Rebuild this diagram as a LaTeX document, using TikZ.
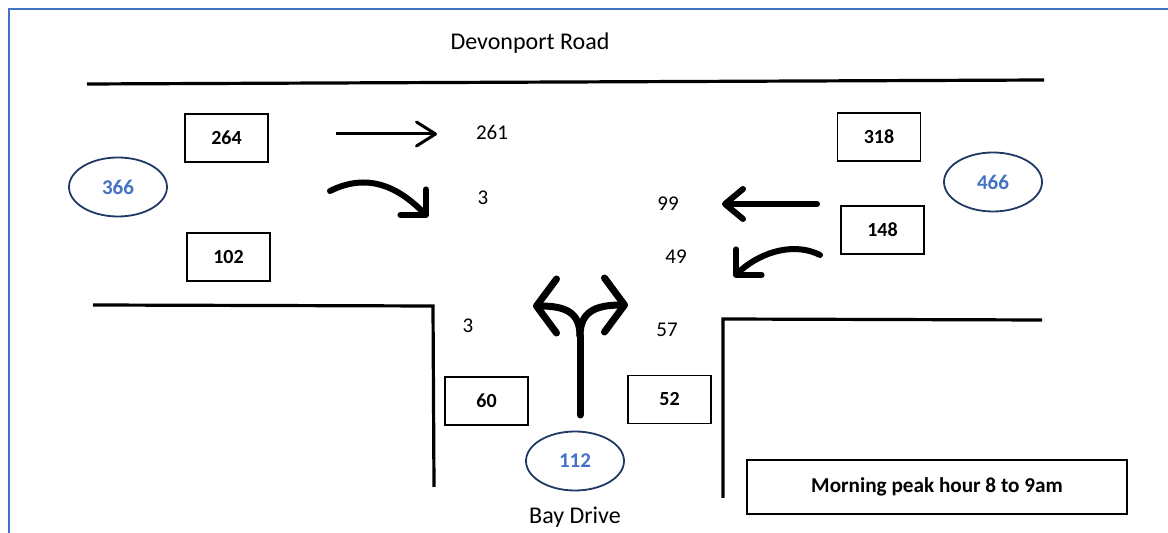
\documentclass[tikz,border=0pt]{standalone}
\usepackage{fontspec}
\setmainfont{Carlito}
\usetikzlibrary{arrows.meta,shapes.geometric}
\definecolor{totalblue}{HTML}{4472C4}
\definecolor{ringnavy}{HTML}{203864}

\begin{document}
\begin{tikzpicture}[
    x=0.5pt, y=-0.5pt,
    every node/.style={font=\fontsize{10.5}{12}\selectfont},
    road/.style={line width=1.6pt, black},
    countbox/.style={draw, line width=0.9pt, minimum width=41.5pt, minimum height=24pt, inner sep=0pt, font=\fontsize{10}{12}\selectfont\bfseries},
    total/.style={ellipse, draw=ringnavy, line width=0.9pt, minimum width=49pt, minimum height=29.5pt, inner sep=0pt, text=totalblue, font=\fontsize{10.5}{12}\selectfont\bfseries},
    street/.style={font=\fontsize{12}{14}\selectfont},
    thrumove/.style={line width=1.5pt, -{Straight Barb[round, length=9.5pt, width=12pt]}},
    boldmove/.style={line width=3pt, line cap=round, -{Straight Barb[round, length=9pt, width=15pt]}},
    turnmove/.style={line width=3pt, line cap=round, -{Straight Barb[round, length=9pt, width=18pt]}},
    forkmove/.style={line width=3.5pt, line cap=round, -{Straight Barb[round, length=10pt, width=27pt]}},
]
\useasboundingbox (0,0) rectangle (1168,533);

% page frame
\draw[totalblue, line width=1pt] (9,533) -- (9,9) -- (1168,9);

% kerb lines
\draw[road] (87,84) -- (1044,80);
\draw[road] (93,305) -- (433,306) -- (434,487);
\draw[road] (1042,320) -- (723,319) -- (723,498);

% street names
\node[street] (devonport) at (530,43) {Devonport Road};
\node[street] (bay) at (575,517) {Bay Drive};

% approach counts and totals
\node[countbox] (w264) at (226.5,138) {264};
\node[countbox] (w102) at (228.5,257) {102};
\node[total] (wtot) at (118,187) {366};

\node[countbox] (e318) at (879,137) {318};
\node[countbox] (e148) at (882.5,230) {148};
\node[total] (etot) at (993,182) {466};

\node[countbox] (s60) at (486.5,401) {60};
\node[countbox] (s52) at (669.5,399.5) {52};
\node[total] (stot) at (575,461) {112};

% turning movement counts
\node (wthru) at (492,132) {261};
\node (wright) at (483,198) {3};
\node (ethru) at (668,204) {99};
\node (eleft) at (676,257) {49};
\node (sleft) at (468,326) {3};
\node (sright) at (667,330) {57};

% movement arrows
\coordinate (wt0) at (336,134);
\coordinate (wt1) at (437,134);
\draw[thrumove] (wt0) -- (wt1);

\coordinate (wr0) at (330,191);
\coordinate (wr1) at (428,217);
\draw[turnmove] (wr0) .. controls (372,170) and (403,192) .. (wr1);

\coordinate (et0) at (817,204);
\coordinate (et1) at (722,204);
\draw[boldmove] (et0) -- (et1);

\coordinate (el0) at (820,255);
\coordinate (el1) at (734,277);
\draw[turnmove] (el0) .. controls (790,240) and (755,256) .. (el1);

\coordinate (fs) at (580,415);
\coordinate (fm) at (580,336);
\coordinate (fl) at (533,306);
\coordinate (fr) at (628,305);
\draw[line width=3.5pt, line cap=round] (fs) -- (fm);
\draw[forkmove] (fm) .. controls (580,312) and (565,306) .. (fl);
\draw[forkmove] (fm) .. controls (580,312) and (595,305) .. (fr);

% period note
\node[draw, line width=0.9pt, minimum width=190pt, minimum height=27pt, font=\fontsize{10.6}{12}\selectfont\bfseries] (note) at (937,487) {Morning peak hour 8 to 9am};
\end{tikzpicture}
\end{document}
